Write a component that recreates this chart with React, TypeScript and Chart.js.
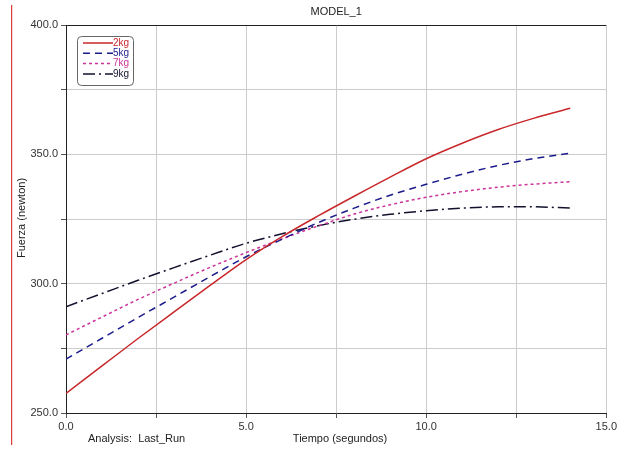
import React, { useEffect, useRef } from "react";
import { Chart, registerables } from "chart.js";

Chart.register(...registerables);

const times = [0, 1, 2, 3, 4, 5, 6, 7, 8, 9, 10, 11, 12, 13, 14];
const kg2 = [257.6, 268.2, 278.8, 289.1, 299.3, 309.3, 318.2, 326.2, 333.8, 341.2, 348.3, 354.3, 359.6, 364.0, 367.8];
const kg5 = [270.8, 278.9, 286.9, 294.8, 302.7, 310.4, 317.2, 323.6, 329.2, 334.2, 338.4, 342.3, 345.7, 348.4, 350.4];
const kg7 = [280.2, 287.1, 293.9, 300.2, 306.3, 312.0, 317.3, 322.3, 326.9, 330.5, 333.4, 335.6, 337.3, 338.5, 339.4];
const kg9 = [291.1, 296.2, 301.3, 306.2, 311.0, 315.6, 319.3, 322.4, 324.9, 326.8, 328.2, 329.2, 329.7, 329.7, 329.2];
const seriesLabels = ["2kg", "5kg", "7kg", "9kg"];
const seriesColors = ["#c8282a", "#1c1c8c", "#cc3399", "#12122e"];
const seriesDashes: number[][] = [[], [7, 5], [3, 3], [12, 4, 2, 4]];
const chartTitle = "MODEL_1";
const yTitle = "Fuerza (newton)";
const xTitle = "Tiempo (segundos)";
const footNote = "Analysis:  Last_Run";

const FONT = "'Liberation Sans', Arial, sans-serif";

const decorPlugin = {
  id: "decor",
  afterDraw(chart: any) {
    const ctx = chart.ctx;
    const area = chart.chartArea;
    ctx.save();
    ctx.setLineDash([]);
    // red margin line
    ctx.fillStyle = "#e03c3c";
    ctx.fillRect(11, 5, 1.2, 440);
    // title
    ctx.fillStyle = "#222";
    ctx.font = `11px ${FONT}`;
    ctx.textAlign = "center";
    ctx.textBaseline = "middle";
    ctx.fillText(chartTitle, (area.left + area.right) / 2, 12);
    // x title and footnote
    ctx.fillText(xTitle, 340, 439);
    ctx.textAlign = "left";
    ctx.fillText(footNote, 88, 439);
    // y title
    ctx.save();
    ctx.translate(22, 218);
    ctx.rotate(-Math.PI / 2);
    ctx.textAlign = "center";
    ctx.fillText(yTitle, 0, 0);
    ctx.restore();
    // legend
    const lx = 77, ly = 36, lw = 56, lh = 49, r = 4;
    ctx.fillStyle = "#fff";
    ctx.strokeStyle = "#666";
    ctx.lineWidth = 1;
    ctx.beginPath();
    ctx.moveTo(lx + r + 0.5, ly + 0.5);
    ctx.arcTo(lx + lw + 0.5, ly + 0.5, lx + lw + 0.5, ly + lh + 0.5, r);
    ctx.arcTo(lx + lw + 0.5, ly + lh + 0.5, lx + 0.5, ly + lh + 0.5, r);
    ctx.arcTo(lx + 0.5, ly + lh + 0.5, lx + 0.5, ly + 0.5, r);
    ctx.arcTo(lx + 0.5, ly + 0.5, lx + lw + 0.5, ly + 0.5, r);
    ctx.closePath();
    ctx.fill();
    ctx.stroke();
    ctx.font = `10px ${FONT}`;
    ctx.textAlign = "right";
    ctx.textBaseline = "middle";
    chart.data.datasets.forEach((ds: any, i: number) => {
      const y = 43 + i * 10.3;
      ctx.strokeStyle = ds.borderColor;
      ctx.lineWidth = 1.5;
      ctx.setLineDash(ds.borderDash || []);
      ctx.beginPath();
      ctx.moveTo(83, y);
      ctx.lineTo(113, y);
      ctx.stroke();
      ctx.setLineDash([]);
      ctx.fillStyle = ds.borderColor;
      ctx.fillText(ds.label, 129, y);
    });
    ctx.restore();
  },
};

export default function App() {
  const ref = useRef<HTMLCanvasElement | null>(null);
  useEffect(() => {
    if (!ref.current) return;
    const all = [kg2, kg5, kg7, kg9];
    const chart = new Chart(ref.current, {
      type: "line",
      data: {
        datasets: all.map((arr, i) => ({
          label: seriesLabels[i],
          data: times.map((t, j) => ({ x: t, y: arr[j] })),
          borderColor: seriesColors[i],
          backgroundColor: seriesColors[i],
          borderDash: seriesDashes[i],
          borderWidth: 1.5,
          pointRadius: 0,
          cubicInterpolationMode: "monotone",
          fill: false,
        })),
      },
      options: {
        animation: false,
        responsive: false,
        layout: { padding: { top: 25, right: 8, left: 0, bottom: 0 } },
        plugins: { legend: { display: false }, tooltip: { enabled: false }, title: { display: false } },
        scales: {
          x: {
            type: "linear",
            min: 0,
            max: 15,
            afterFit: (s: any) => { s.height = 40; },
            ticks: {
              stepSize: 2.5,
              autoSkip: false,
              maxRotation: 0,
              color: "#333",
              font: { family: FONT, size: 11 },
              padding: 2,
              callback: (v: any) => (Number(v) % 5 === 0 ? Number(v).toFixed(1) : ""),
            },
            grid: { color: "#cccccc", tickLength: 5, tickColor: "#555" },
            border: { color: "#222", width: 1 },
          },
          y: {
            min: 250,
            max: 400,
            afterFit: (s: any) => { s.width = 66; },
            ticks: {
              stepSize: 25,
              autoSkip: false,
              color: "#333",
              font: { family: FONT, size: 11 },
              padding: 3,
              callback: (v: any) => (Number(v) % 50 === 0 ? Number(v).toFixed(1) : ""),
            },
            grid: {
              color: (c: any) => (c.tick && c.tick.value === 400 ? "#222" : "#cccccc"),
              tickLength: 5,
              tickColor: "#555",
            },
            border: { color: "#222", width: 1 },
          },
        },
      },
      plugins: [decorPlugin],
    });
    return () => chart.destroy();
  }, []);
  return (
    <div style={{ position: "absolute", left: 0, top: 0, width: 619, height: 453, background: "#fff" }}>
      <canvas ref={ref} width={619} height={453} style={{ display: "block" }} />
    </div>
  );
}
